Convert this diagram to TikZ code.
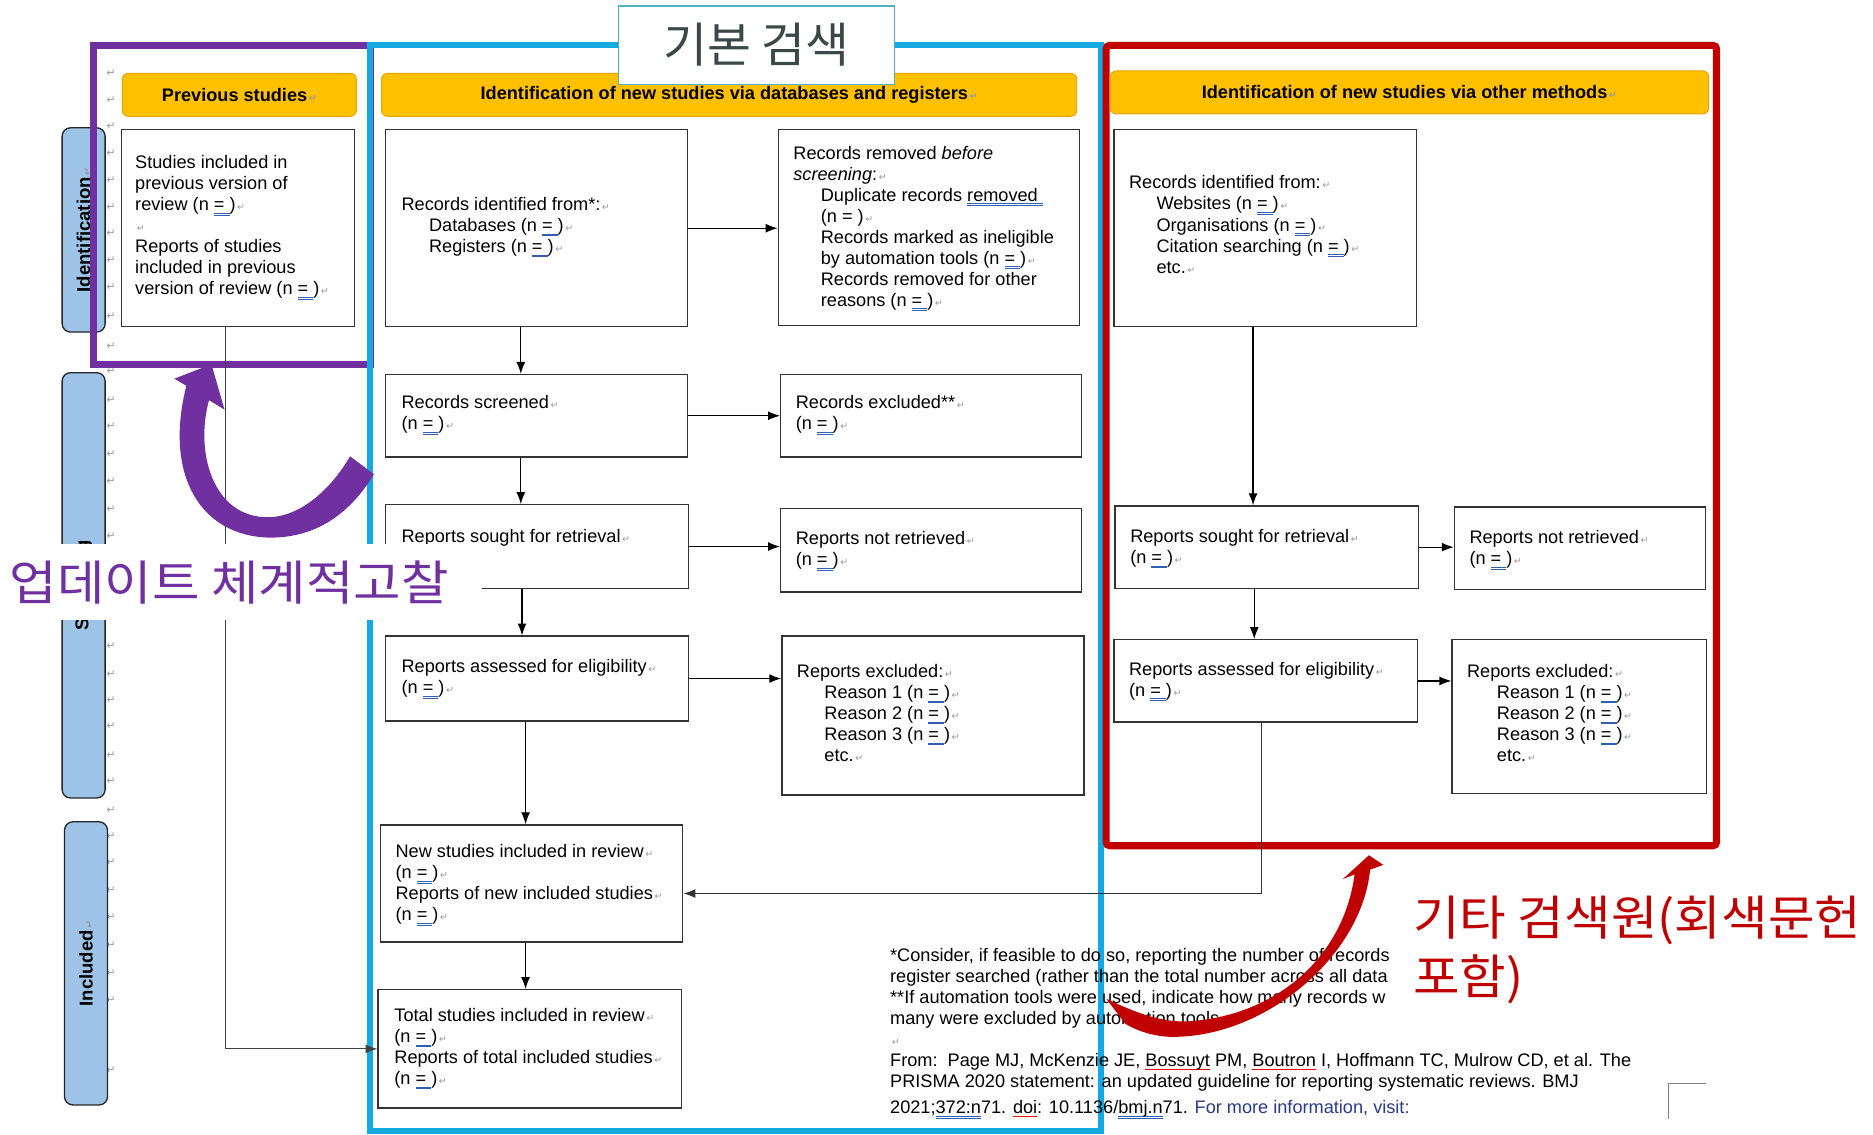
\documentclass[tikz,border=0pt]{standalone}
\usepackage{fontspec}
\setmainfont{Liberation Sans}
\newfontfamily\kor{Noto Sans CJK KR}
\newfontfamily\dejavu{DejaVu Sans}
\usetikzlibrary{arrows.meta}
\definecolor{bluefr}{HTML}{14A9E1}
\definecolor{purfr}{HTML}{7030A0}
\definecolor{redfr}{HTML}{C00000}
\definecolor{ybar}{HTML}{FFC000}
\definecolor{ybarline}{HTML}{E3A600}
\definecolor{labfill}{HTML}{9DC3E6}
\definecolor{retc}{HTML}{9A9A9A}
\definecolor{ulc}{HTML}{2F5FB3}
\definecolor{tealbd}{HTML}{4FB3BF}
\definecolor{tealtx}{HTML}{3A4848}
\definecolor{navyt}{HTML}{2B3A8C}
\newcommand{\retm}{{\dejavu\fontsize{8}{8}\selectfont\color{retc}\,↵}}
\newcommand{\dul}[1]{\setbox0\hbox{#1}\rlap{\color{ulc}\rule[-2.4pt]{\wd0}{0.6pt}}\rlap{\color{ulc}\rule[-3.8pt]{\wd0}{0.6pt}}\box0\relax}
\newcommand{\eqx}{\dul{= }}
\newcommand{\rwl}[1]{\setbox0\hbox{#1}\rlap{\color{red}\rule[-2.6pt]{\wd0}{0.5pt}}\box0\relax}
\newcommand{\tst}{\rule{0pt}{12pt}}
\newcommand{\myind}{\hspace*{23pt}}
\newcommand{\bodyf}{\fontsize{15.2}{17.6}\selectfont}
\tikzset{
 box/.style={draw=black!80, line width=1.1pt, fill=white, anchor=north west, inner sep=0pt},
 txt/.style={anchor=north west, inner sep=0pt, align=left, font=\bodyf},
 hdr/.style={draw=ybarline, fill=ybar, rounded corners=5pt, line width=0.8pt, anchor=north west, inner sep=0pt, font=\fontsize{15.2}{17}\selectfont\bfseries},
 lab/.style={draw=black!85, fill=labfill, rounded corners=7pt, line width=1.1pt, rotate=90, inner sep=0pt, font=\fontsize{15.5}{17}\selectfont\bfseries},
 arr/.style={-{Latex[length=10pt,width=7.5pt]}, line width=1pt, black},
 rmk/.style={inner sep=0pt, font=\dejavu\fontsize{9}{9}\selectfont, text=retc},
}
\begin{document}
\begin{tikzpicture}[x=1pt,y=-1pt]
\useasboundingbox[fill=white] (0,0) rectangle (1568,950);

% margin paragraph marks
\foreach \yy [count=\i] in {61,84,106,128,151,173,195,218,240,265,290,311,335,357,380,403,426,449,541,564,586,608,632,654,678,700,722,745,768,791,815,837,896}
  \node[rmk] (rm\i) at (93,\yy) {↵};

% side labels
\node[lab, minimum width=171pt, minimum height=36pt] (lid) at (70,192.5) {Identification\retm};
\node[lab, minimum width=356pt, minimum height=36pt] (lsc) at (70,490) {Screening};
\node[lab, minimum width=237pt, minimum height=36pt] (lin) at (72,806.5) {Included\retm};

% frames
\draw[purfr, line width=6pt] (78,38) rectangle (310,305);
\draw[bluefr, line width=5pt] (310,38) rectangle (922,947);
\draw[redfr, line width=6pt, rounded corners=3pt] (926,38) rectangle (1437,708);

% header bars
\node[hdr, minimum width=196pt, minimum height=36pt] (hprev) at (102,61) {Previous studies\retm};
\node[hdr, minimum width=582pt, minimum height=36pt] (hdb) at (319,61) {Identification of new studies via databases and registers\retm};
\node[hdr, minimum width=501pt, minimum height=36pt] (hoth) at (929,59) {Identification of new studies via other methods\retm};

% boxes
\node[box, minimum width=195pt, minimum height=165pt] (prev) at (101,108) {};
\node[box, minimum width=253pt, minimum height=165pt] (rid) at (322,108) {};
\node[box, minimum width=252pt, minimum height=164pt] (rrem) at (651,108) {};
\node[box, minimum width=253pt, minimum height=69pt] (rsc) at (322,313) {};
\node[box, minimum width=252pt, minimum height=69pt] (rexc) at (653,313) {};
\node[box, minimum width=254pt, minimum height=70pt] (rsou) at (322,422) {};
\node[box, minimum width=252pt, minimum height=70pt] (rnr) at (653,425) {};
\node[box, minimum width=254pt, minimum height=71pt] (rass) at (322,532) {};
\node[box, minimum width=253pt, minimum height=133pt] (rex) at (654,532) {};
\node[box, minimum width=253pt, minimum height=98pt] (nst) at (318,690) {};
\node[box, minimum width=254pt, minimum height=99pt] (tot) at (316,828) {};
\node[box, minimum width=253pt, minimum height=165pt] (orid) at (932,108) {};
\node[box, minimum width=254pt, minimum height=69pt] (osou) at (933,423) {};
\node[box, minimum width=210pt, minimum height=69pt] (onr) at (1217,424) {};
\node[box, minimum width=254pt, minimum height=69pt] (oass) at (932,535) {};
\node[box, minimum width=213pt, minimum height=129pt] (oex) at (1215,535) {};

% box texts
\node[txt] (tprev) at (113,129) {\tst Studies included in\\previous version of\\review (n \eqx)\retm\\\retm\\Reports of studies\\included in previous\\version of review (n \eqx)\retm};
\node[txt] (trid) at (336,164) {\tst Records identified from*:\retm\\\myind Databases (n \eqx)\retm\\\myind Registers (n \eqx)\retm};
\node[txt] (trrem) at (664,121) {\tst Records removed \textit{before}\\\textit{screening}:\retm\\\myind Duplicate records \dul{removed }\\\myind (n = )\retm\\\myind Records marked as ineligible\\\myind by automation tools (n \eqx)\retm\\\myind Records removed for other\\\myind reasons (n \eqx)\retm};
\node[txt] (trsc) at (336,330) {\tst Records screened\retm\\(n \eqx)\retm};
\node[txt] (trexc) at (666,330) {\tst Records excluded**\retm\\(n \eqx)\retm};
\node[txt] (trsou) at (336,442) {\tst Reports sought for retrieval\retm};
\node[txt] (trnr) at (666,444) {\tst Reports not retrieved\retm\\(n \eqx)\retm};
\node[txt] (trass) at (336,551) {\tst Reports assessed for eligibility\retm\\(n \eqx)\retm};
\node[txt] (trex) at (667,555) {\tst Reports excluded:\retm\\\myind Reason 1 (n \eqx)\retm\\\myind Reason 2 (n \eqx)\retm\\\myind Reason 3 (n \eqx)\retm\\\myind etc.\retm};
\node[txt] (tnst) at (331,706) {\tst New studies included in review\retm\\(n \eqx)\retm\\Reports of new included studies\retm\\(n \eqx)\retm};
\node[txt] (ttot) at (330,843) {\tst Total studies included in review\retm\\(n \eqx)\retm\\Reports of total included studies\retm\\(n \eqx)\retm};
\node[txt] (torid) at (945,146) {\tst Records identified from:\retm\\\myind Websites (n \eqx)\retm\\\myind Organisations (n \eqx)\retm\\\myind Citation searching (n \eqx)\retm\\\myind etc.\retm};
\node[txt] (tosou) at (946,442) {\tst Reports sought for retrieval\retm\\(n \eqx)\retm};
\node[txt] (tonr) at (1230,443) {\tst Reports not retrieved\retm\\(n \eqx)\retm};
\node[txt] (toass) at (945,553) {\tst Reports assessed for eligibility\retm\\(n \eqx)\retm};
\node[txt] (toex) at (1228,555) {\tst Reports excluded:\retm\\\hspace*{25pt}Reason 1 (n \eqx)\retm\\\hspace*{25pt}Reason 2 (n \eqx)\retm\\\hspace*{25pt}Reason 3 (n \eqx)\retm\\\hspace*{25pt}etc.\retm};

% connectors
\coordinate (xp) at (189,0);
\coordinate (xa) at (436,0);
\coordinate (xb) at (437,0);
\coordinate (xc) at (440,0);
\coordinate (xo) at (1049,0);
\coordinate (xq) at (1050,0);
\coordinate (xr) at (1056,0);
\coordinate (yj) at (0,748);
\draw[arr, black!75] (prev.south -| xp) |- (tot.west);
\draw[arr] (rid.east) -- (rrem.west |- rid.east);
\draw[arr] (rid.south -| xa) -- (rsc.north -| xa);
\draw[arr] (rsc.east) -- (rexc.west |- rsc.east);
\draw[arr] (rsc.south -| xa) -- (rsou.north -| xa);
\draw[arr] (rsou.east) -- (rnr.west |- rsou.east);
\draw[arr] (rsou.south -| xb) -- (rass.north -| xb);
\draw[arr] (rass.east) -- (rex.west |- rass.east);
\draw[arr] (rass.south -| xc) -- (nst.north -| xc);
\draw[arr] (nst.south -| xc) -- (tot.north -| xc);
\draw[arr] (orid.south -| xo) -- (osou.north -| xo);
\draw[arr] (osou.east) -- (onr.west |- osou.east);
\draw[arr] (osou.south -| xq) -- (oass.north -| xq);
\draw[arr] (oass.east) -- (oex.west |- oass.east);
\draw[arr, black!80] (oass.south -| xr) |- (nst.east |- yj);

% footnote
\node[txt] (tfn) at (745,793) {\tst *Consider, if feasible to do so, reporting the number of records\\register searched (rather than the total number across all data\\{}**If automation tools were used, indicate how many records w\\many were excluded by automation tools.\retm\\\retm\\From:\ \ Page MJ, McKenzie JE, \rwl{Bossuyt} PM, \rwl{Boutron} I, Hoffmann TC, Mulrow CD, et al. The\\PRISMA 2020 statement: an updated guideline for reporting systematic reviews. BMJ\\[4pt]2021;\dul{372:n}71. \rwl{doi}: 10.1136/\dul{bmj.n}71. {\color{navyt}For more information, visit:}};
\draw[black!50, line width=0.8pt] (1428,907) -- (1397,907) -- (1397,937);

% title box
\node[fill=white, draw=tealbd, line width=1.5pt, minimum width=231pt, minimum height=66pt, anchor=north west, inner sep=0pt, font=\kor\fontsize{40}{44}\selectfont, text=tealtx] (kbasic) at (517,4) {기본 검색};

% purple curved arrow
\fill[purfr] (177,305) -- (188,343) -- (175,335) .. controls (163,378) and (178,433) .. (224,433) .. controls (254,433) and (280,405) .. (293,382) -- (313,397) .. controls (292,432) and (262,451) .. (224,450) .. controls (168,448) and (137,398) .. (156,323) -- (146,317) -- cycle;
\node[fill=white, inner sep=0pt, minimum width=403pt, minimum height=64pt, anchor=north west] (kupbg) at (0,455) {};
\node[inner sep=0pt, xscale=1.08, font=\kor\fontsize{40}{42}\selectfont, text=purfr] (kup) at (192,488) {업데이트 체계적고찰};

% red curved arrow
\fill[redfr] (1146,716) -- (1158,724) -- (1147,728) .. controls (1140,800) and (1060,868) .. (982,868) .. controls (965,868) and (950,862) .. (942,857) -- (926,836) .. controls (955,850) and (975,856) .. (995,855) .. controls (1070,850) and (1125,800) .. (1134,732) -- (1124,736) -- cycle;
\node[fill=white, inner sep=0pt, minimum width=400pt, minimum height=105pt, anchor=north west] (kotbg) at (1168,745) {};
\node[inner sep=0pt, anchor=north west, align=left, xscale=1.06, font=\kor\fontsize{40}{49}\selectfont, text=redfr] (kot) at (1183,750) {기타 검색원(회색문헌\\포함)};
\end{tikzpicture}
\end{document}
